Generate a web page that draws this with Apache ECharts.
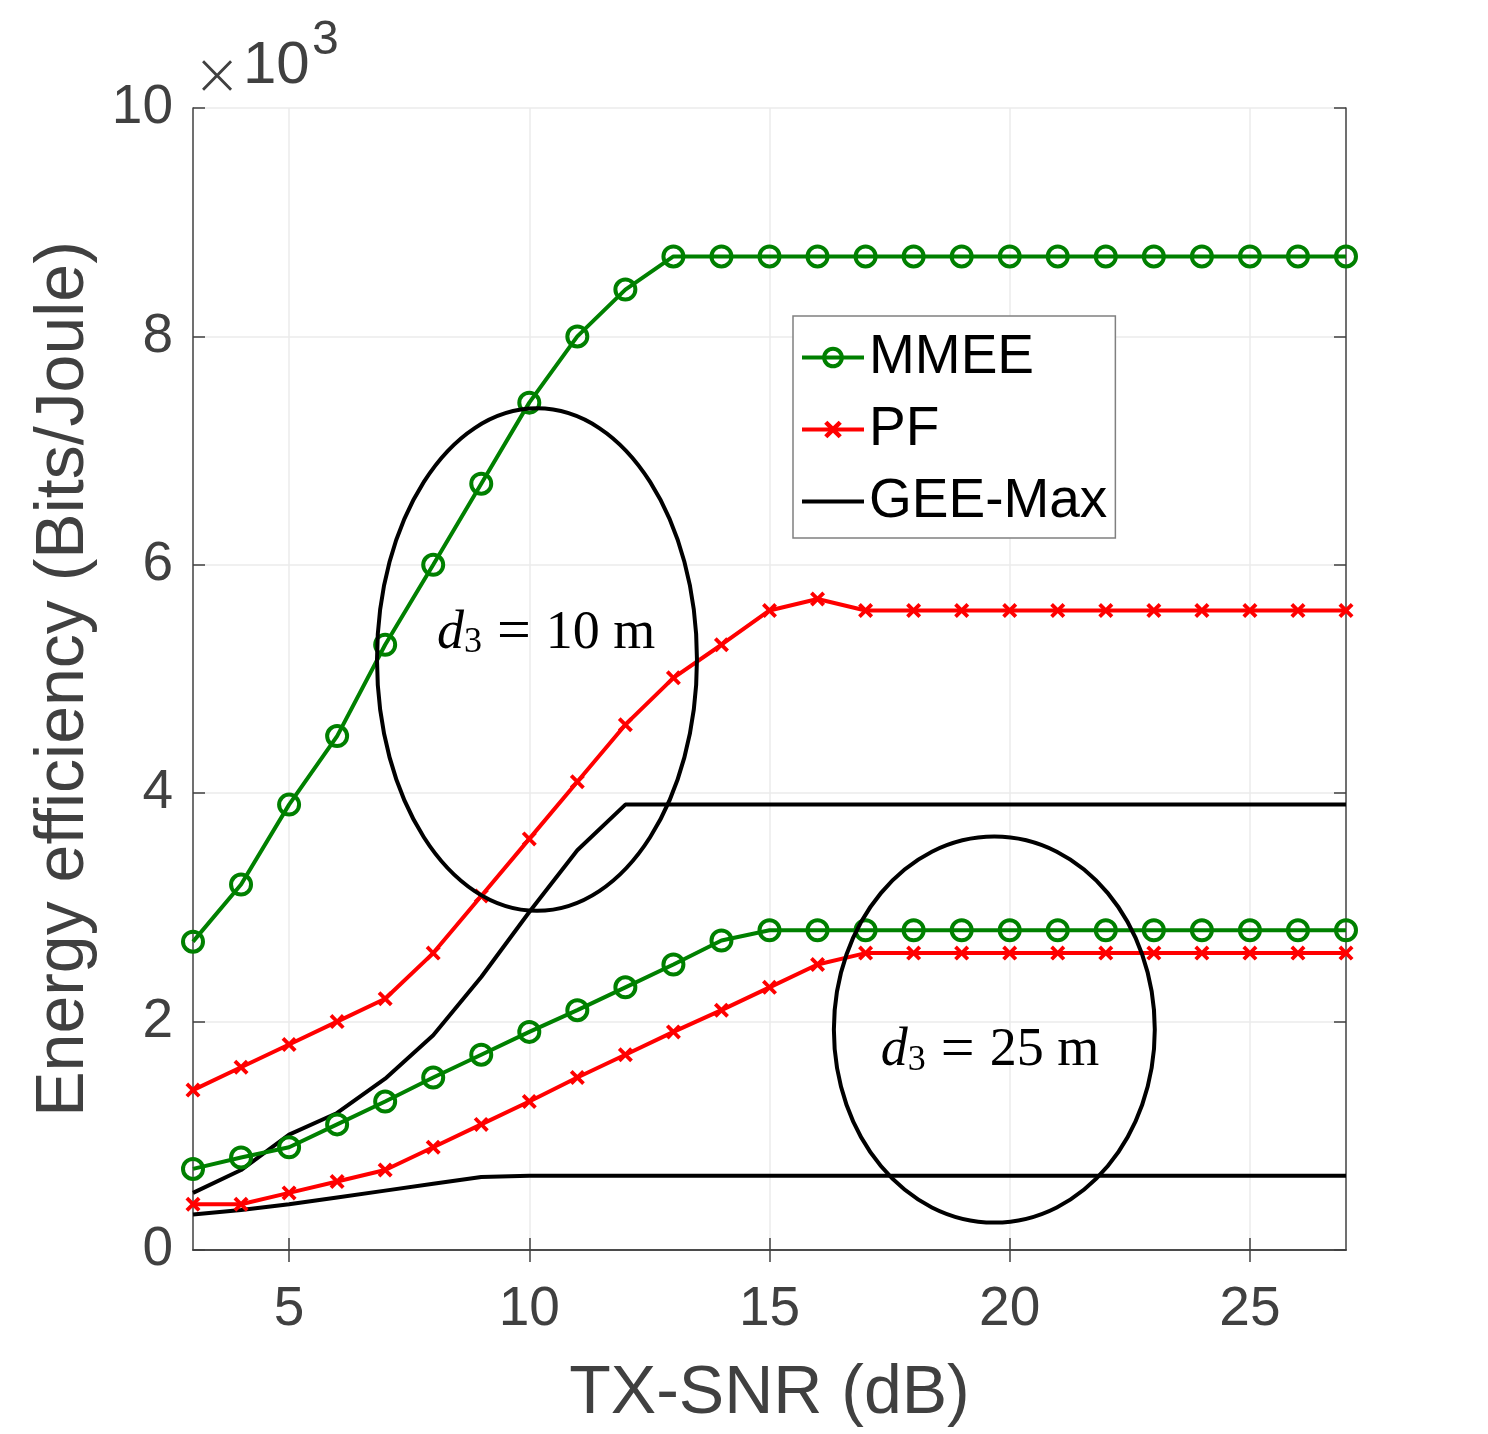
<!DOCTYPE html>
<html>
<head>
<meta charset="utf-8">
<script src="https://cdn.jsdelivr.net/npm/echarts@6/dist/echarts.min.js"></script>
<style>
  html, body { margin: 0; padding: 0; background: #fff; }
  #chart { width: 1488px; height: 1434px; }
</style>
</head>
<body>
<div id="chart"></div>
<script>
// TX-SNR (dB)
const snr = [3, 4, 5, 6, 7, 8, 9, 10, 11, 12, 13, 14, 15, 16, 17, 18, 19, 20, 21, 22, 23, 24, 25, 26, 27];

// energy efficiency, x10^3 Bits/Joule
const mmee10 = [2.70, 3.20, 3.90, 4.50, 5.30, 6.00, 6.71, 7.42, 8.00, 8.41, 8.70, 8.70, 8.70, 8.70, 8.70, 8.70, 8.70, 8.70, 8.70, 8.70, 8.70, 8.70, 8.70, 8.70, 8.70];
const pf10 = [1.40, 1.60, 1.80, 2.00, 2.20, 2.60, 3.10, 3.60, 4.10, 4.60, 5.01, 5.30, 5.60, 5.70, 5.60, 5.60, 5.60, 5.60, 5.60, 5.60, 5.60, 5.60, 5.60, 5.60, 5.60];
const gee10 = [0.50, 0.70, 1.01, 1.20, 1.50, 1.88, 2.39, 2.96, 3.50, 3.90, 3.90, 3.90, 3.90, 3.90, 3.90, 3.90, 3.90, 3.90, 3.90, 3.90, 3.90, 3.90, 3.90, 3.90, 3.90];
const mmee25 = [0.71, 0.81, 0.90, 1.10, 1.30, 1.51, 1.71, 1.91, 2.10, 2.30, 2.50, 2.71, 2.80, 2.80, 2.80, 2.80, 2.80, 2.80, 2.80, 2.80, 2.80, 2.80, 2.80, 2.80, 2.80];
const pf25 = [0.40, 0.40, 0.50, 0.60, 0.70, 0.90, 1.10, 1.30, 1.51, 1.71, 1.91, 2.10, 2.30, 2.50, 2.60, 2.60, 2.60, 2.60, 2.60, 2.60, 2.60, 2.60, 2.60, 2.60, 2.60];
const gee25 = [0.31, 0.35, 0.40, 0.46, 0.52, 0.58, 0.64, 0.65, 0.65, 0.65, 0.65, 0.65, 0.65, 0.65, 0.65, 0.65, 0.65, 0.65, 0.65, 0.65, 0.65, 0.65, 0.65, 0.65, 0.65];

const xTicks = [5, 10, 15, 20, 25];

// ellipses: [cx, cy, rx, ry] in data units, and label centres
const ellipse10 = [10.16, 5.17, 3.33, 2.20];
const ellipse25 = [19.68, 1.93, 3.34, 1.69];
const label10 = [10.35, 5.40];
const label25 = [19.59, 1.74];

const green = '#008000';
const red = '#ff0000';
const grey = '#404040';
const crossPath = 'path://M0,1.8L1.8,0L5,3.2L8.2,0L10,1.8L6.8,5L10,8.2L8.2,10L5,6.8L1.8,10L0,8.2L3.2,5Z';

function pairs(ys) {
  return snr.map((x, i) => [x, ys[i]]);
}

function mmeeSeries(ys) {
  return {
    name: 'MMEE',
    type: 'line',
    data: pairs(ys),
    symbol: 'circle',
    symbolSize: 20,
    lineStyle: { color: green, width: 4 },
    itemStyle: { color: 'transparent', borderColor: green, borderWidth: 4 },
    z: 3
  };
}

function pfSeries(ys) {
  return {
    name: 'PF',
    type: 'line',
    data: pairs(ys),
    symbol: crossPath,
    symbolSize: 15,
    lineStyle: { color: red, width: 4 },
    itemStyle: { color: red },
    z: 4
  };
}

function geeSeries(ys) {
  return {
    name: 'GEE-Max',
    type: 'line',
    data: pairs(ys),
    symbol: 'none',
    lineStyle: { color: '#000', width: 4 },
    itemStyle: { color: '#000' },
    z: 2
  };
}

const chart = echarts.init(document.getElementById('chart'));

let option = {
  animation: false,
  grid: {
    left: 193,
    right: 142,
    top: 108,
    bottom: 184
  },
  legend: {
    left: 793,
    top: 316,
    orient: 'vertical',
    data: [
      { name: 'MMEE', itemStyle: { color: 'transparent', borderColor: green, borderWidth: 4 } },
      { name: 'PF' },
      { name: 'GEE-Max', itemStyle: { color: 'transparent', borderWidth: 0 } }
    ],
    itemWidth: 62,
    itemHeight: 22,
    itemGap: 17,
    padding: [14, 8, 9, 7],
    borderColor: '#808080',
    borderWidth: 1.5,
    backgroundColor: '#fff',
    lineStyle: { width: 4 },
    textStyle: {
      fontFamily: 'Liberation Sans',
      fontSize: 55,
      lineHeight: 55,
      color: '#000'
    }
  },
  xAxis: [{
    type: 'value',
    min: 3,
    max: 27,
    name: 'TX-SNR (dB)',
    nameLocation: 'middle',
    nameGap: 110,
    nameTextStyle: { fontFamily: 'Liberation Sans', fontSize: 68, color: grey },
    axisLine: { lineStyle: { color: grey, width: 1.5 } },
    axisTick: { inside: true, length: 12, customValues: xTicks, lineStyle: { color: grey, width: 1.5 } },
    axisLabel: { customValues: xTicks, margin: 32, fontFamily: 'Liberation Sans', fontSize: 55, color: grey },
    splitLine: { show: true, lineStyle: { color: '#ebebeb', width: 1.5 } }
  }, {
    type: 'value',
    position: 'top',
    min: 3,
    max: 27,
    axisLine: { lineStyle: { color: grey, width: 1.5 } },
    axisTick: { inside: true, length: 12, customValues: xTicks, lineStyle: { color: grey, width: 1.5 } },
    axisLabel: { show: false },
    splitLine: { show: false }
  }],
  yAxis: [{
    type: 'value',
    min: 0,
    max: 10,
    interval: 2,
    name: 'Energy efficiency (Bits/Joule)',
    nameLocation: 'middle',
    nameGap: 95,
    nameTextStyle: { fontFamily: 'Liberation Sans', fontSize: 68, color: grey },
    axisLine: { show: true, lineStyle: { color: grey, width: 1.5 } },
    axisTick: { show: true, inside: true, length: 12, lineStyle: { color: grey, width: 1.5 } },
    axisLabel: { margin: 20, fontFamily: 'Liberation Sans', fontSize: 55, color: grey },
    splitLine: { show: true, lineStyle: { color: '#ebebeb', width: 1.5 } }
  }, {
    type: 'value',
    position: 'right',
    min: 0,
    max: 10,
    interval: 2,
    axisLine: { show: true, lineStyle: { color: grey, width: 1.5 } },
    axisTick: { show: true, inside: true, length: 12, lineStyle: { color: grey, width: 1.5 } },
    axisLabel: { show: false },
    splitLine: { show: false }
  }],
  series: [
    mmeeSeries(mmee10),
    pfSeries(pf10),
    geeSeries(gee10),
    mmeeSeries(mmee25),
    pfSeries(pf25),
    geeSeries(gee25)
  ]
};

chart.setOption(option);

function ellipseShape(e) {
  const c = chart.convertToPixel({ gridIndex: 0 }, [e[0], e[1]]);
  const p = chart.convertToPixel({ gridIndex: 0 }, [e[0] + e[2], e[1] + e[3]]);
  return { cx: c[0], cy: c[1], rx: Math.abs(p[0] - c[0]), ry: Math.abs(c[1] - p[1]) };
}

function annotation(pos, txt) {
  const c = chart.convertToPixel({ gridIndex: 0 }, pos);
  return {
    type: 'text',
    x: c[0],
    y: c[1],
    z: 10,
    style: {
      text: '{d|d}{s|3}{e| = }{t|' + txt + '}',
      align: 'center',
      verticalAlign: 'middle',
      rich: {
        d: { fontFamily: 'Liberation Serif', fontStyle: 'italic', fontSize: 54, fill: '#000' },
        s: { fontFamily: 'Liberation Serif', fontSize: 36, padding: [18, 0, 0, 0], fill: '#000' },
        e: { fontFamily: 'Liberation Serif', fontSize: 60, fill: '#000' },
        t: { fontFamily: 'Liberation Serif', fontSize: 54, fill: '#000' }
      }
    }
  };
}

chart.setOption({
  graphic: [
    {
      type: 'ellipse',
      shape: ellipseShape(ellipse10),
      style: { fill: 'none', stroke: '#000', lineWidth: 4 },
      z: 5
    },
    {
      type: 'ellipse',
      shape: ellipseShape(ellipse25),
      style: { fill: 'none', stroke: '#000', lineWidth: 4 },
      z: 5
    },
    annotation(label10, '10 m'),
    annotation(label25, '25 m'),
    {
      type: 'text',
      x: 217,
      y: 79,
      style: { text: '×', fontFamily: 'DejaVu Sans', fontSize: 58, fill: grey, align: 'center', verticalAlign: 'middle', fontWeight: 'lighter' }
    },
    {
      type: 'text',
      left: 243,
      top: 36,
      style: { text: '10', fontFamily: 'Liberation Sans', fontSize: 60, fill: grey }
    },
    {
      type: 'text',
      left: 312,
      top: 17,
      style: { text: '3', fontFamily: 'Liberation Sans', fontSize: 48, fill: grey }
    }
  ]
});
</script>
</body>
</html>
